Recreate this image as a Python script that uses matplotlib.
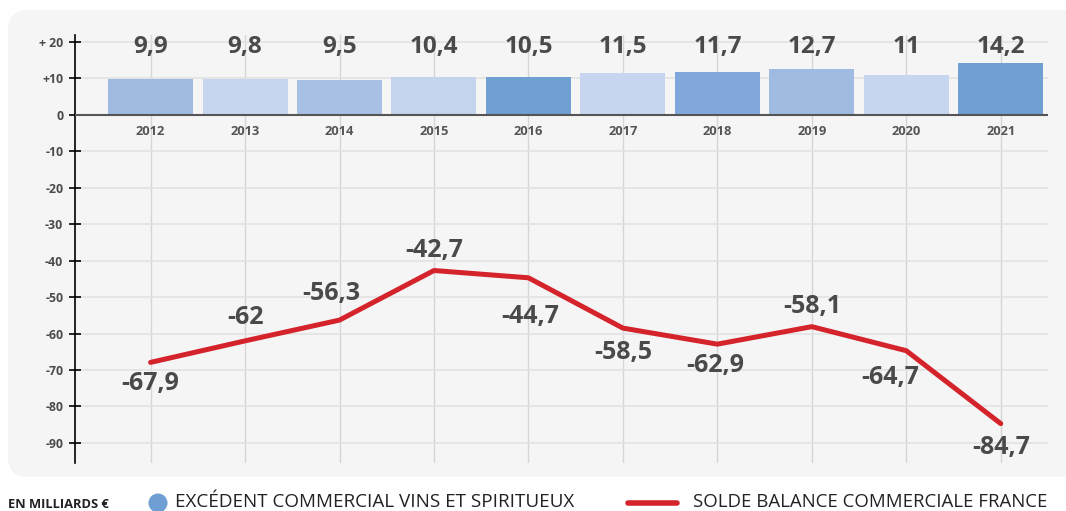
import matplotlib
matplotlib.use('Agg')
import matplotlib.pyplot as plt
from matplotlib.patches import FancyBboxPatch, Ellipse
from matplotlib.lines import Line2D
from matplotlib.transforms import IdentityTransform

# ---- data ----
years = ['2012', '2013', '2014', '2015', '2016', '2017', '2018', '2019', '2020', '2021']
wine_surplus = [9.9, 9.8, 9.5, 10.4, 10.5, 11.5, 11.7, 12.7, 11.0, 14.2]
wine_labels = ['9,9', '9,8', '9,5', '10,4', '10,5', '11,5', '11,7', '12,7', '11', '14,2']
trade_balance = [-67.9, -62.0, -56.3, -42.7, -44.7, -58.5, -62.9, -58.1, -64.7, -84.7]
balance_labels = ['-67,9', '-62', '-56,3', '-42,7', '-44,7', '-58,5', '-62,9', '-58,1', '-64,7', '-84,7']
y_ticks = [20, 10, 0, -10, -20, -30, -40, -50, -60, -70, -80, -90]
y_tick_labels = ['+ 20', '+10', '0', '-10', '-20', '-30', '-40', '-50', '-60', '-70', '-80', '-90']
legend_bar = 'EXCÉDENT COMMERCIAL VINS ET SPIRITUEUX'
legend_line = 'SOLDE BALANCE COMMERCIALE FRANCE'
unit_label = 'EN MILLIARDS €'

# ---- styles ----
bar_colors = ['#A0BBE2', '#C7D6EE', '#A8C0E4', '#C4D4ED', '#709FD4',
              '#C7D6EE', '#80A8DB', '#A0BBE2', '#C7D6EE', '#709FD4']
label_dx = [0, 0, -8, 0, 2, 0, -2, 0, -16, 0]          # pixels
label_dy = [-21, 23, 27, 20, -39, -24, -21, 20, -27, -24]  # pixels
text_color = '#4A4A4A'
red = '#D4232B'

plt.rcParams['font.family'] = ['Open Sans', 'DejaVu Sans']

fig = plt.figure(figsize=(10.66, 5.11), dpi=100, facecolor='white')

# background panel (pixel coordinates)
panel = FancyBboxPatch((8, 34), 1100, 467, boxstyle='round,pad=0,rounding_size=20',
                       transform=IdentityTransform(), facecolor='#F5F5F5',
                       edgecolor='none', zorder=0)
fig.add_artist(panel)

ax = fig.add_axes([75 / 1066, 1 - 463 / 511, (1048 - 75) / 1066, (463 - 35) / 511])
ax.set_facecolor('none')
x = list(range(len(years)))

ax.bar(x, wine_surplus, width=0.9, color=bar_colors, zorder=2)
ax.plot(x, trade_balance, color=red, lw=3.6, solid_capstyle='round',
        solid_joinstyle='round', zorder=4)
ax.axhline(0, color='#555555', lw=1.5, zorder=3)

ax.set_xlim(-0.8, 9.5)
ax.set_ylim(-95.5, 21.9)

ax.set_yticks(y_ticks)
ax.set_yticklabels(y_tick_labels, fontsize=8.8, fontweight='bold', color=text_color)
ax.tick_params(axis='y', direction='inout', length=9, width=1.2, color='black', pad=4)
ax.set_xticks(x)
ax.tick_params(axis='x', length=0, labelbottom=False)

ax.grid(axis='y', color='#E2E2E2', lw=1.2)
ax.grid(axis='x', color='#D6D6D6', lw=1.0)
ax.set_axisbelow(True)

for s in ['top', 'right', 'bottom']:
    ax.spines[s].set_visible(False)
ax.spines['left'].set_color('black')
ax.spines['left'].set_linewidth(1.2)

for i, (yr, lab) in enumerate(zip(years, wine_labels)):
    ax.text(i, -4.7, yr, ha='center', va='center', fontsize=9.3, fontweight='bold',
            color='#555555')
    ax.text(i, 18.7, lab, ha='center', va='center', fontsize=17.5, fontweight='bold',
            color=text_color)

for i, (v, lab) in enumerate(zip(trade_balance, balance_labels)):
    ax.annotate(lab, (i, v), xytext=(label_dx[i], label_dy[i]), textcoords='offset pixels',
                ha='center', va='center', fontsize=18, fontweight='bold',
                color=text_color, zorder=5)

# ---- legend ----
fig.text(8 / 1066, 1 - 504 / 511, unit_label, ha='left', va='center', fontsize=9.3,
         fontweight='bold', color='#222222')
fig.add_artist(Ellipse((158, 511 - 503), 19, 19, transform=IdentityTransform(),
                       facecolor='#6E9ED4', edgecolor='none'))
fig.text(175 / 1066, 1 - 502 / 511, legend_bar, ha='left', va='center', fontsize=13.6,
         color='#222222')
fig.add_artist(Line2D([628, 677], [511 - 503, 511 - 503], transform=IdentityTransform(),
                      color=red, lw=4, solid_capstyle='round'))
fig.text(693 / 1066, 1 - 502 / 511, legend_line, ha='left', va='center', fontsize=13.4,
         color='#222222')

fig.savefig('out.png', dpi=100, facecolor='white')
